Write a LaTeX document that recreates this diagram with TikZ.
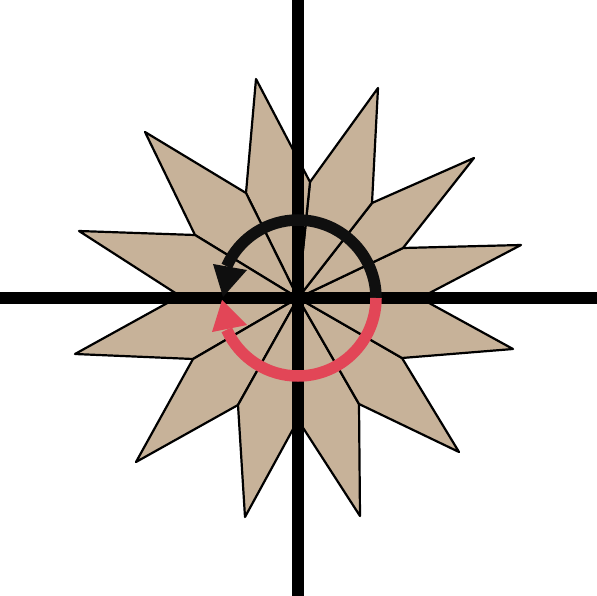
\documentclass[tikz,border=0pt]{standalone}
\usetikzlibrary{calc}
\definecolor{petalfill}{HTML}{C7B299}
\definecolor{arcred}{HTML}{E24657}
\definecolor{arcblack}{HTML}{0F0F0F}
\tikzset{
  petal/.style={fill=petalfill, draw=black, line width=2.2pt, line join=round},
  axisline/.style={draw=black, line width=12pt},
  blackarc/.style={draw=arcblack, line width=11.5pt},
  redarc/.style={draw=arcred, line width=11.5pt},
  blackhead/.style={fill=arcblack},
  redhead/.style={fill=arcred}
}
\begin{document}
\begin{tikzpicture}[x=1pt,y=-1pt]
\useasboundingbox (0,0) rectangle (597,596);
\coordinate (O) at (298,298);
% side vertices
\coordinate (V0) at (420,298);
\coordinate (V1) at (403,248);
\coordinate (V2) at (372,203);
\coordinate (V3) at (310,182);
\coordinate (V4) at (246,193);
\coordinate (V5) at (195,235);
\coordinate (V6) at (180,296);
\coordinate (V7) at (193,359);
\coordinate (V8) at (238,405);
\coordinate (V9) at (298,420);
\coordinate (V10) at (359,404);
\coordinate (V11) at (402,358);
% tips
\coordinate (T0) at (521,245);
\coordinate (T1) at (474,158);
\coordinate (T2) at (378,88);
\coordinate (T3) at (256,79);
\coordinate (T4) at (145,132);
\coordinate (T5) at (79,231);
\coordinate (T6) at (75,354);
\coordinate (T7) at (136,462);
\coordinate (T8) at (245,517);
\coordinate (T9) at (360,516);
\coordinate (T10) at (459,452);
\coordinate (T11) at (513,349);
% petals
\foreach \k/\n in {0/1,1/2,2/3,3/4,4/5,5/6,6/7,7/8,8/9,9/10,10/11,11/0}{
  \draw[petal] (O) -- (V\k) -- (T\k) -- (V\n) -- cycle;
}
% axes
\coordinate (AL) at (0,298);
\coordinate (AR) at (597,298);
\coordinate (AT) at (298,0);
\coordinate (AB) at (298,596);
\draw[axisline] (AL) -- (AR);
\draw[axisline] (AT) -- (AB);
% rotation arcs
\coordinate (S) at (376,298);
\draw[blackarc] (S) arc[start angle=0, end angle=-156, radius=78];
\draw[redarc] (S) arc[start angle=0, end angle=156, radius=78];
% arrowheads
\coordinate (BH1) at (213,264);
\coordinate (BH2) at (247,270);
\coordinate (BHt) at (223,297);
\fill[blackhead] (BH1) -- (BH2) -- (BHt) -- cycle;
\coordinate (RH1) at (212,332);
\coordinate (RH2) at (247,325);
\coordinate (RHt) at (222,300);
\fill[redhead] (RH1) -- (RH2) -- (RHt) -- cycle;
\end{tikzpicture}
\end{document}
